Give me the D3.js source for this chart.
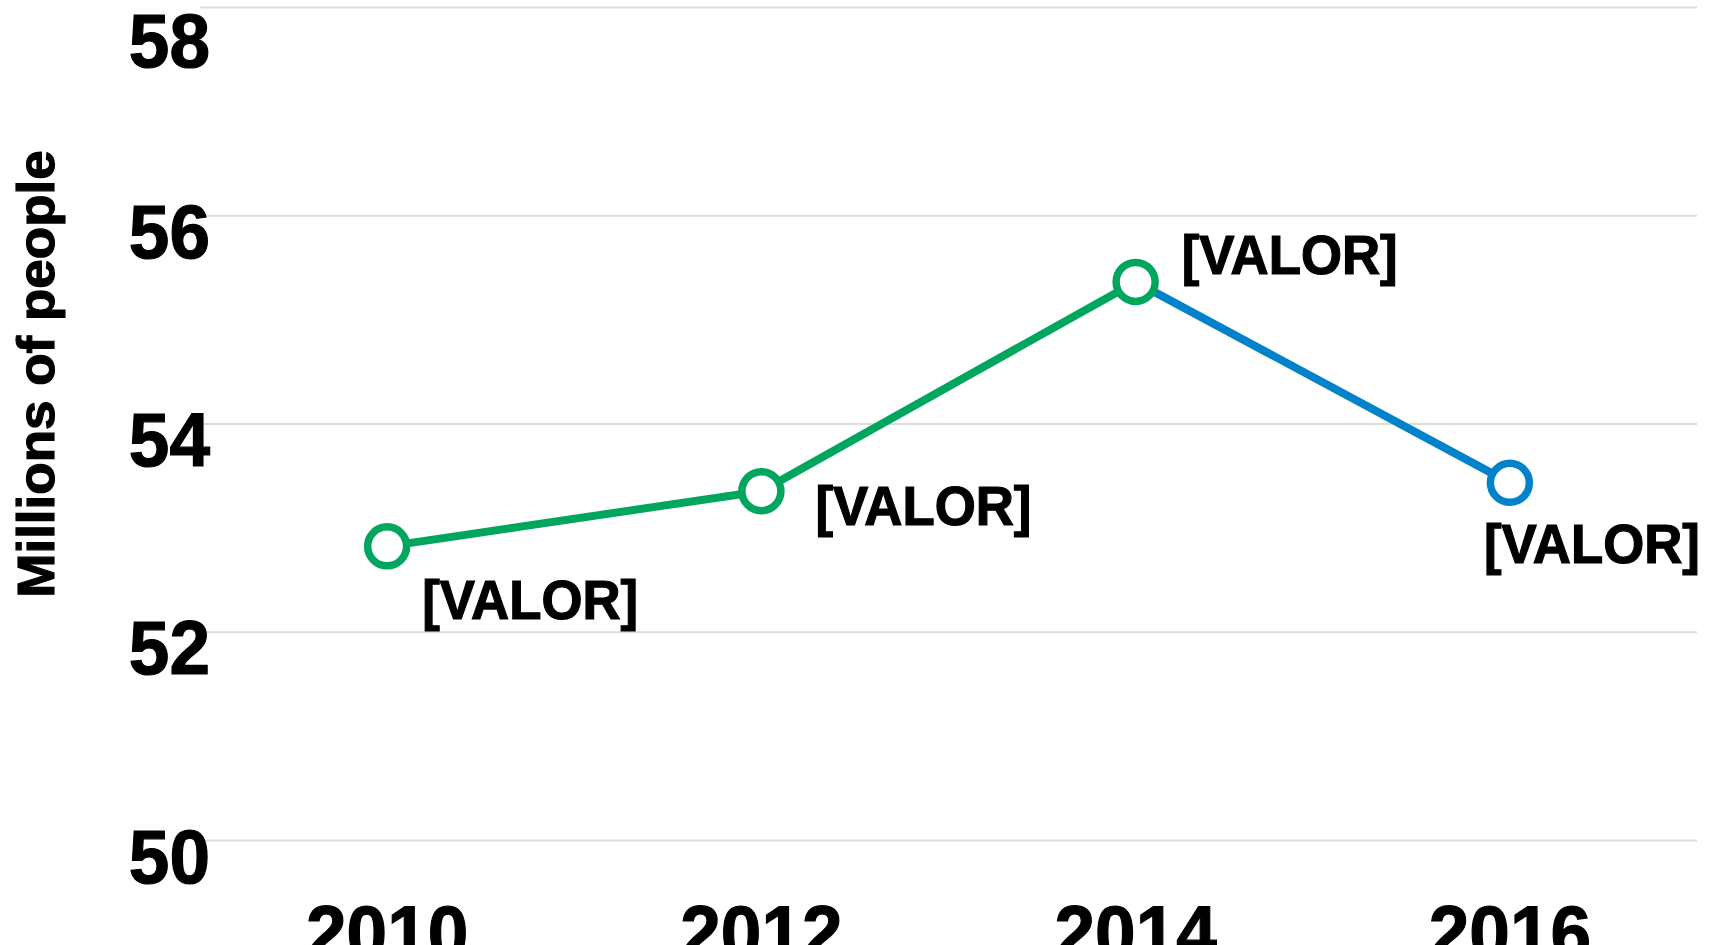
<!DOCTYPE html>
<html>
<head>
<meta charset="utf-8">
<script src="https://cdn.jsdelivr.net/npm/d3@7"></script>
<style>
  html, body { margin: 0; padding: 0; background: #ffffff; overflow: hidden; }
  svg { display: block; }
</style>
</head>
<body>
<svg id="chart" width="1713" height="945"></svg>
<script>
// ---- data ----
const years = ["2010", "2012", "2014", "2016"];
const values = [52.82, 53.35, 55.36, 53.43];
const pointLabels = ["[VALOR]", "[VALOR]", "[VALOR]", "[VALOR]"];
const segmentSeries = ["green", "green", "blue"];   // series of each segment i -> i+1
const pointSeries = ["green", "green", "green", "blue"];
const yTicks = [50, 52, 54, 56, 58];
const yTitle = "Millions of people";

// ---- layout / style ----
const W = 1713, H = 945;
const plot = { left: 200, right: 1697, top: 7, bottom: 840 };
const colors = { green: "#00A65D", blue: "#0382CC" };
const FONT = "'Liberation Sans', Arimo, Arial, sans-serif";
const squeeze = 0.96;
// label offsets (text-left, baseline) relative to each point
const labelOffsets = [[35, 73], [54, 34], [46, -8], [-26, 80]];

const svg = d3.select("#chart");

const x = d3.scaleBand().domain(years).range([plot.left, plot.right]).padding(0);
const y = d3.scaleLinear().domain([50, 58]).range([plot.bottom, plot.top]);
const cx = d => x(d) + x.bandwidth() / 2;

function styleText(sel, size, sw) {
  sel.style("font-family", FONT).style("font-weight", "700").style("font-size", size + "px")
     .style("fill", "#000").style("stroke", "#000").style("stroke-width", sw).style("paint-order", "stroke");
}

// gridlines + y tick labels via axis
const yAxis = svg.append("g")
  .attr("transform", `translate(${plot.left},0)`)
  .call(d3.axisLeft(y).tickValues(yTicks).tickSize(-(plot.right - plot.left)).tickFormat(d3.format("d")));
yAxis.select(".domain").remove();
yAxis.selectAll(".tick line").attr("stroke", "#dcdcdc").attr("stroke-width", 2);
yAxis.selectAll(".tick text")
  .attr("x", null).attr("dy", null)
  .attr("text-anchor", "end")
  .call(styleText, 76, 1.2)
  .attr("transform", d => {
    const base = Math.max(42, 66 - y(d));
    return `translate(10,${base}) scale(${squeeze},1)`;
  });

// x axis labels
const xAxis = svg.append("g")
  .attr("transform", `translate(0,${plot.bottom})`)
  .call(d3.axisBottom(x).tickSize(0));
xAxis.select(".domain").remove();
xAxis.selectAll(".tick text")
  .attr("y", null).attr("dy", null)
  .attr("text-anchor", "middle")
  .call(styleText, 76, 1.2)
  .attr("transform", `translate(0,119) scale(${squeeze},1)`);

// y title
svg.append("text")
  .attr("text-anchor", "middle")
  .call(styleText, 53, 1.2)
  .attr("transform", `translate(54,374) scale(${squeeze},1) rotate(-90)`)
  .text(yTitle);

// line segments
const pts = years.map((yr, i) => ({ yr, v: values[i], i }));
const line = d3.line().x(d => cx(d.yr)).y(d => y(d.v));
segmentSeries.forEach((s, i) => {
  svg.append("path")
    .attr("d", line([pts[i], pts[i + 1]]))
    .attr("fill", "none")
    .attr("stroke", colors[s])
    .attr("stroke-width", 8)
    .attr("stroke-linecap", "butt");
});

// markers
svg.append("g").selectAll("circle")
  .data(pts).join("circle")
  .attr("cx", d => cx(d.yr))
  .attr("cy", d => y(d.v))
  .attr("r", 19.5)
  .attr("fill", "#fff")
  .attr("stroke", d => colors[pointSeries[d.i]])
  .attr("stroke-width", 7.5);

// point labels
svg.append("g").selectAll("text")
  .data(pts).join("text")
  .attr("text-anchor", "start")
  .call(styleText, 55, 1.2)
  .attr("transform", d => `translate(${cx(d.yr) + labelOffsets[d.i][0]},${y(d.v) + labelOffsets[d.i][1]}) scale(${squeeze},1)`)
  .text(d => pointLabels[d.i]);
</script>
</body>
</html>
